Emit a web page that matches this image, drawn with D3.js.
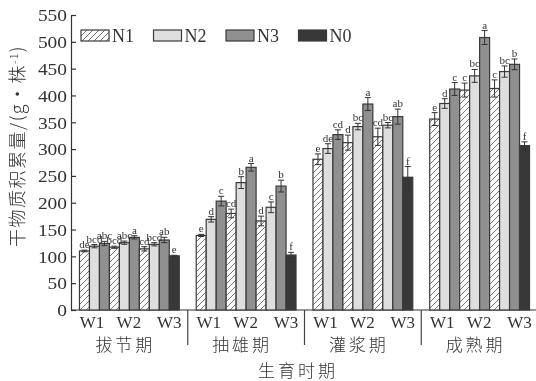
<!DOCTYPE html>
<html>
<head>
<meta charset="utf-8">
<script src="https://cdn.jsdelivr.net/npm/d3@7"></script>
<style>
  body { margin: 0; background: #fff; }
  svg { filter: grayscale(1); }
  text { fill: #333; }
  .num { font-family: "Liberation Serif", "DejaVu Serif", serif; }
  .cjk { font-family: "Noto Sans CJK SC", sans-serif; font-weight: 300; }
</style>
</head>
<body>
<svg id="chart" width="536" height="381"></svg>
<script>
// growth stages, water levels, nitrogen levels
const stages = ["拔节期", "抽雄期", "灌浆期", "成熟期"];
const wLevels = ["W1", "W2", "W3"];
const nSeries = ["N1", "N2", "N3", "N0"];

// values by stage, then W1..W3 (N0 only under W3)
const n1Values = [110, 117, 114, 139, 180, 166, 281, 312, 323, 356, 410, 413];
const n2Values = [119, 125.5, 122.5, 169, 237.5, 191.5, 301, 342, 344.5, 385, 436.5, 444.5];
const n3Values = [124, 135.5, 130.5, 203, 266, 231, 327, 384, 360.5, 412, 508, 458];
const n0Values = [101, 102.5, 247.5, 306.5];

const n1Err = [1.5, 2, 4, 2, 8, 9, 10, 14, 16, 12, 13, 16];
const n2Err = [3, 3, 3, 5, 11, 10, 9, 6, 5, 9, 12, 10.5];
const n3Err = [4, 3, 5, 9, 7, 11, 9, 12, 14, 12, 13, 10];
const n0Err = [1, 5, 20, 7];

const n1Letters = ["de", "bcd", "cd", "e", "cd", "d", "e", "d", "cd", "e", "c", "c"];
const n2Letters = ["bcd", "abc", "bcd", "d", "b", "c", "de", "bc", "bc", "d", "bc", "bc"];
const n3Letters = ["abc", "a", "ab", "c", "a", "b", "cd", "a", "ab", "c", "a", "b"];
const n0Letters = ["e", "f", "f", "f"];

const yTicks = [0, 50, 100, 150, 200, 250, 300, 350, 400, 450, 500, 550];

const fills = { N1: "url(#hatch)", N2: "#dedede", N3: "#8c9195", N0: "#383838" };

// flatten into bars
const bars = [];
stages.forEach((s, si) => {
  wLevels.forEach((w, wi) => {
    const k = si * 3 + wi;
    bars.push({ stage: s, key: w + "N1", n: "N1", v: n1Values[k], e: n1Err[k], l: n1Letters[k] });
    bars.push({ stage: s, key: w + "N2", n: "N2", v: n2Values[k], e: n2Err[k], l: n2Letters[k] });
    bars.push({ stage: s, key: w + "N3", n: "N3", v: n3Values[k], e: n3Err[k], l: n3Letters[k] });
    if (w === "W3") {
      bars.push({ stage: s, key: "W3N0", n: "N0", v: n0Values[si], e: n0Err[si], l: n0Letters[si] });
    }
  });
});
const barKeys = bars.slice(0, 10).map(d => d.key);

const svg = d3.select("#chart");
const x0 = 71, x1 = 538, yTop = 15, yBot = 310;

const defs = svg.append("defs");
const pat = defs.append("pattern")
  .attr("id", "hatch")
  .attr("patternUnits", "userSpaceOnUse")
  .attr("width", 6).attr("height", 6);
pat.append("rect").attr("width", 6).attr("height", 6).attr("fill", "#fff");
pat.append("path")
  .attr("d", "M-1,7 L7,-1 M-4,4 L4,-4 M2,10 L10,2")
  .attr("stroke", "#555").attr("stroke-width", 0.8);

const xStage = d3.scaleBand().domain(stages).range([x0, x1]);
const xBar = d3.scaleBand().domain(barKeys).range([0, xStage.bandwidth()]).paddingOuter(0.85);
const y = d3.scaleLinear().domain([0, 550]).range([yBot, yTop]);

// y axis
const yAxis = svg.append("g")
  .attr("transform", `translate(${x0},0)`)
  .call(d3.axisLeft(y).tickValues(yTicks).tickSizeInner(-5).tickSizeOuter(0).tickPadding(4));
yAxis.select(".domain").attr("stroke", "#333").attr("stroke-width", 1.2);
yAxis.selectAll(".tick line").attr("stroke", "#333").attr("stroke-width", 1.2);
yAxis.selectAll(".tick text")
  .attr("class", "num")
  .style("font-size", "17px")
  .attr("fill", "#333")
  .attr("dy", "0.34em")
  .attr("textLength", d => String(d).length * 9.7)
  .attr("lengthAdjust", "spacingAndGlyphs");

// x axis line and stage dividers
svg.append("line")
  .attr("x1", x0).attr("x2", 536).attr("y1", yBot).attr("y2", yBot)
  .attr("stroke", "#333").attr("stroke-width", 1.2);
svg.selectAll("line.div")
  .data(stages.slice(1))
  .join("line")
  .attr("class", "div")
  .attr("x1", d => xStage(d)).attr("x2", d => xStage(d))
  .attr("y1", yBot).attr("y2", 345)
  .attr("stroke", "#444").attr("stroke-width", 1.2);

// bars
const gBars = svg.append("g");
gBars.selectAll("rect")
  .data(bars)
  .join("rect")
  .attr("x", d => xStage(d.stage) + xBar(d.key))
  .attr("y", d => y(d.v))
  .attr("width", xBar.bandwidth())
  .attr("height", d => y(0) - y(d.v))
  .attr("fill", d => fills[d.n])
  .attr("stroke", "#3a3a3a")
  .attr("stroke-width", 1.2);

// error bars
const cx = d => xStage(d.stage) + xBar(d.key) + xBar.bandwidth() / 2;
const gErr = svg.append("g").attr("stroke", "#333").attr("stroke-width", 1);
gErr.selectAll("path")
  .data(bars)
  .join("path")
  .attr("fill", "none")
  .attr("d", d => {
    const c = cx(d), t = y(d.v + d.e), b = y(d.v - d.e);
    return `M${c - 3},${t}H${c + 3}M${c},${t}V${b}M${c - 3},${b}H${c + 3}`;
  });

// significance letters
svg.append("g")
  .selectAll("text")
  .data(bars)
  .join("text")
  .attr("class", "num")
  .attr("x", cx)
  .attr("y", d => y(d.v + d.e) - 2)
  .attr("text-anchor", "middle")
  .style("font-size", "11px")
  .text(d => d.l);

// W labels
const wPos = {
  W1: (xBar("W1N1") + xBar("W1N3") + xBar.bandwidth()) / 2 - 2.5,
  W2: (xBar("W2N1") + xBar("W2N3") + xBar.bandwidth()) / 2 + 4.5,
  W3: xBar("W3N0")
};
stages.forEach(s => {
  svg.append("g").selectAll("text")
    .data(wLevels)
    .join("text")
    .attr("class", "num")
    .attr("x", w => xStage(s) + wPos[w])
    .attr("y", 328)
    .attr("text-anchor", "middle")
    .style("font-size", "17px")
    .text(w => w);
});

// stage labels
svg.append("g").selectAll("text")
  .data(stages)
  .join("text")
  .attr("class", "cjk")
  .attr("x", d => xStage(d) + xStage.bandwidth() / 2 - 4)
  .attr("y", 351)
  .attr("text-anchor", "middle")
  .style("font-size", "17px")
  .style("letter-spacing", "3px")
  .text(d => d);

// x title
svg.append("text")
  .attr("class", "cjk")
  .attr("x", 298)
  .attr("y", 377)
  .attr("text-anchor", "middle")
  .style("font-size", "17px")
  .style("letter-spacing", "3px")
  .text("生育时期");

// y title
const yt = svg.append("text")
  .attr("class", "cjk")
  .attr("transform", "translate(24,146) rotate(-90)")
  .attr("text-anchor", "middle")
  .style("font-size", "18px")
  .style("letter-spacing", "1.5px");
yt.append("tspan").text("干物质积累量/(g·株");
yt.append("tspan").attr("dy", -6).style("font-size", "10px").text("-1");
yt.append("tspan").attr("dy", 6).text(")");

// legend
const leg = svg.append("g").selectAll("g")
  .data(nSeries)
  .join("g")
  .attr("transform", (d, i) => `translate(${81 + i * 72.5},30)`);
leg.append("rect")
  .attr("width", 28).attr("height", 11)
  .attr("fill", d => fills[d])
  .attr("stroke", "#3a3a3a").attr("stroke-width", 1.2);
leg.append("text")
  .attr("class", "num")
  .attr("x", 31).attr("y", 11.5)
  .style("font-size", "18px")
  .text(d => d);
</script>
</body>
</html>
